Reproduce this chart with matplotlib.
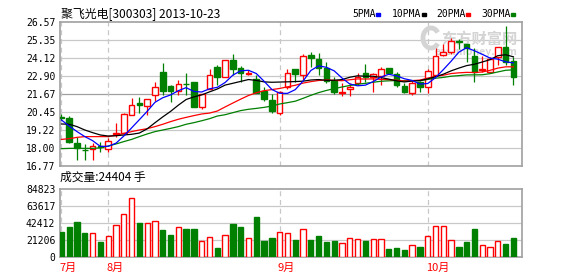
import numpy as np
import pandas as pd
import matplotlib
matplotlib.use("Agg")
import matplotlib.pyplot as plt
import matplotlib.transforms as mtransforms
from matplotlib.patches import Arc

plt.rcParams['font.family'] = ['Noto Sans CJK SC', 'DejaVu Sans']

# Daily candles, 2013-07-24 .. 2013-10-23
opens = [20.08, 20.04, 18.31, 17.88, 17.91, 18.10, 17.91, 18.95, 18.99, 20.24,
         21.06, 20.85, 21.58, 23.19, 22.21, 21.85, 22.37, 22.49, 20.81, 21.99,
         23.53, 22.80, 23.98, 23.42, 23.01, 22.67, 21.87, 21.26, 20.35, 22.12,
         23.35, 22.96, 24.32, 24.03, 23.42, 22.58, 21.72, 21.99, 22.40, 23.12,
         22.80, 22.89, 23.42, 23.03, 22.21, 21.76, 22.51, 22.12, 22.96, 24.32,
         24.55, 25.25, 25.07, 24.26, 23.30, 23.19, 24.17, 24.85, 23.89]
highs = [20.29, 20.15, 18.72, 18.27, 18.36, 18.40, 18.65, 19.67, 20.35, 21.37,
         21.44, 21.31, 22.49, 23.78, 22.28, 22.62, 23.12, 22.49, 21.70, 23.35,
         23.62, 23.98, 24.39, 23.57, 23.30, 22.96, 22.17, 21.67, 21.87, 23.35,
         23.37, 24.39, 24.53, 24.44, 23.87, 22.85, 22.44, 22.44, 23.12, 23.71,
         23.12, 23.53, 23.44, 23.19, 22.40, 22.58, 22.58, 23.35, 25.16, 25.07,
         25.46, 25.39, 25.09, 24.78, 24.26, 24.17, 24.87, 26.30, 24.21]
lows = [19.90, 18.36, 17.18, 17.18, 17.18, 17.75, 17.75, 18.77, 18.95, 20.24,
        20.40, 20.24, 21.17, 21.58, 21.10, 21.58, 21.58, 20.76, 20.63, 21.99,
        22.28, 22.80, 22.96, 22.51, 22.96, 21.72, 21.22, 20.35, 20.22, 21.99,
        22.51, 22.62, 23.53, 22.96, 22.40, 21.67, 21.53, 21.53, 22.28, 22.51,
        21.83, 22.28, 23.06, 22.17, 21.76, 21.60, 21.83, 21.72, 22.89, 24.26,
        24.39, 24.71, 23.87, 22.51, 23.19, 23.12, 23.64, 23.64, 22.28]
closes = [20.06, 18.43, 17.99, 17.86, 18.13, 18.09, 18.49, 19.04, 20.29, 20.90,
          20.90, 21.31, 22.12, 21.85, 21.85, 22.35, 22.35, 20.81, 21.67, 22.94,
          22.85, 23.98, 23.35, 23.12, 23.12, 21.76, 21.35, 20.54, 21.83, 23.08,
          23.03, 24.26, 24.14, 23.42, 22.58, 21.83, 21.81, 22.12, 22.80, 22.80,
          23.03, 23.35, 23.08, 22.26, 21.83, 22.44, 22.12, 23.26, 24.26, 24.55,
          25.30, 25.23, 24.78, 23.19, 23.35, 24.03, 24.85, 23.87, 22.85]
volumes = [31600, 37840, 44075, 30350, 30350, 19130, 26200, 39900, 54050, 73600,
           42830, 42410, 44900, 34100, 27860, 37420, 35340, 35340, 20370, 24950,
           11640, 27860, 42000, 37840, 23700, 50300, 20370, 24100, 31600, 29940,
           21620, 34930, 21620, 26600, 19130, 20370, 17460, 23700, 22870, 20370,
           22450, 22450, 10400, 11640, 9150, 14970, 12890, 26200, 38670, 38670,
           21200, 12890, 19130, 35340, 14970, 12470, 20370, 16630, 24404]

# moving-average values at the left edge (history before the window is not shown)
ma5_start = [19.90, 19.49, 19.11, 18.77]
ma10_start = [19.63, 19.61, 19.45, 19.22, 19.04, 18.88, 18.81, 18.83, 18.88]
ma20_start = [18.58, 18.63, 18.72, 18.77, 18.77, 18.77, 18.77, 18.86, 18.99, 19.11,
              19.22, 19.31, 19.45, 19.61, 19.79, 19.95, 20.08, 20.20, 20.31]
ma30_start = [17.95, 17.97, 17.97, 17.97, 17.97, 18.00, 18.13, 18.27, 18.43, 18.58,
              18.77, 18.95, 19.11, 19.22, 19.33, 19.45, 19.61, 19.72, 19.85, 19.99,
              20.17, 20.26, 20.40, 20.54, 20.63, 20.69, 20.76, 20.85, 20.99]

month_pos = [0, 6, 28, 47]
month_labels = ["7月", "8月", "9月", "10月"]

price_ticks = [26.57, 25.35, 24.12, 22.90, 21.67, 20.45, 19.22, 18.00, 16.77]
vol_ticks = [0, 21206, 42412, 63617, 84823]

RED = "#ff0000"
GREEN = "#008000"
GRID = "#c8c8c8"
FRAME = "#a0a0a0"
WMARK = "#d4d4d4"

n = len(closes)
x = np.arange(n)
o = np.array(opens)
c = np.array(closes)
h = np.array(highs)
l = np.array(lows)
up = c > o

# moving averages
cs = pd.Series(closes)
mas = {}
for per, start in [(5, ma5_start), (10, ma10_start), (20, ma20_start), (30, ma30_start)]:
    m = cs.rolling(per).mean().to_numpy()
    m[:len(start)] = start
    mas[per] = m

fig = plt.figure(figsize=(5.78, 2.76), dpi=100)
ax = fig.add_axes([59.5 / 578, 1 - 166 / 276, 462.5 / 578, 144 / 276])
axv = fig.add_axes([59.5 / 578, 1 - 257.3 / 276, 462.5 / 578, 68 / 276])

xmin, xmax = -0.25, 59.1
body_w = 0.72

# ---- price panel ----
ax.set_xlim(xmin, xmax)
ax.set_ylim(16.77, 26.57)
for t in price_ticks[1:-1]:
    ax.axhline(t, color=FRAME if t == 21.67 else GRID, lw=0.9, zorder=0)
for p in month_pos:
    ax.axvline(p, color=GRID, lw=0.9, ls=(0, (4, 3)), zorder=0)

# watermark (eastmoney logo)
ax.text(0.99, 0.885, "东方财富网", transform=ax.transAxes, ha="right", va="center",
        fontsize=11, color=WMARK, fontweight="bold", zorder=1)
ax.text(0.99, 0.79, "eastmoney.com", transform=ax.transAxes, ha="right", va="center",
        fontsize=7.5, color=WMARK, fontweight="bold", zorder=1)
logo = Arc((431 / 578, 1 - 38 / 276), 16 / 578, 20 / 276, theta1=60, theta2=300,
           transform=fig.transFigure, color=WMARK, lw=3.5, zorder=1)
fig.patches.append(logo)

# wicks
top = np.maximum(o, c)
bot = np.minimum(o, c)
cols = np.where(up, RED, GREEN)
ax.vlines(x, top, h, colors=cols, lw=0.9, zorder=2)
ax.vlines(x, l, bot, colors=cols, lw=0.9, zorder=2)

# bodies
hgt = np.maximum(top - bot, 0.0)
ax.bar(x[up], hgt[up], bottom=bot[up], width=body_w, facecolor="white",
       edgecolor=RED, lw=1.0, zorder=3)
ax.bar(x[~up], hgt[~up], bottom=bot[~up], width=body_w, facecolor=GREEN,
       edgecolor=GREEN, lw=1.0, zorder=3)

# moving average lines
ax.plot(x, mas[30], color=GREEN, lw=0.9, zorder=4)
ax.plot(x, mas[20], color=RED, lw=0.9, zorder=4)
ax.plot(x, mas[10], color="black", lw=0.9, zorder=4)
ax.plot(x, mas[5], color="#0000ff", lw=0.9, zorder=4)

ax.set_yticks(price_ticks)
ax.set_yticklabels([f"{t:.2f}" for t in price_ticks], family="DejaVu Sans Mono", fontsize=7)
ax.set_xticks([])
ax.tick_params(axis="y", length=0, pad=3)

# title + legend
fig.text(61 / 578, 1 - 14 / 276, "聚飞光电[300303] 2013-10-23", fontsize=8.6,
         ha="left", va="center")
leg_items = [("5PMA", "#0000ff", 352), ("10PMA", "black", 392),
             ("20PMA", RED, 436), ("30PMA", GREEN, 481)]
for txt, col, px in leg_items:
    fig.text(px / 578, 1 - 14 / 276, txt, fontsize=7, family="DejaVu Sans Mono",
             ha="left", va="center")
    sq_x = px + 5.8 * len(txt) + 1
    fig.patches.append(plt.Rectangle((sq_x / 578, 1 - 16 / 276), 4 / 578, 3 / 276,
                                     transform=fig.transFigure, color=col))

for sp in ax.spines.values():
    sp.set_color(FRAME)
    sp.set_linewidth(1.2)

# ---- volume panel ----
axv.set_xlim(xmin, xmax)
axv.set_ylim(0, 84823)
for t in vol_ticks[1:-1]:
    axv.axhline(t, color=GRID, lw=0.9, zorder=0)
for p in month_pos:
    axv.axvline(p, color=GRID, lw=0.9, ls=(0, (4, 3)), zorder=0)

v = np.array(volumes)
axv.bar(x[up], v[up], width=0.68, facecolor="white", edgecolor=RED, lw=1.0, zorder=3)
axv.bar(x[~up], v[~up], width=0.68, facecolor=GREEN, edgecolor=GREEN, lw=1.0, zorder=3)

axv.set_yticks(vol_ticks)
axv.set_yticklabels([str(t) for t in vol_ticks], family="DejaVu Sans Mono", fontsize=7)
axv.set_xticks([])
axv.tick_params(axis="y", length=0, pad=3)
for sp in axv.spines.values():
    sp.set_color(FRAME)
    sp.set_linewidth(1.2)

fig.text(60 / 578, 1 - 177 / 276, f"成交量:{volumes[-1]} 手", fontsize=8.5,
         ha="left", va="center")

# month labels
trans = mtransforms.blended_transform_factory(axv.transData, fig.transFigure)
for p, lab in zip(month_pos, month_labels):
    axv.text(p - 0.25, 1 - 268 / 276, lab, transform=trans, color=RED, fontsize=8,
             ha="left", va="center")

plt.savefig("out.png", dpi=100)
